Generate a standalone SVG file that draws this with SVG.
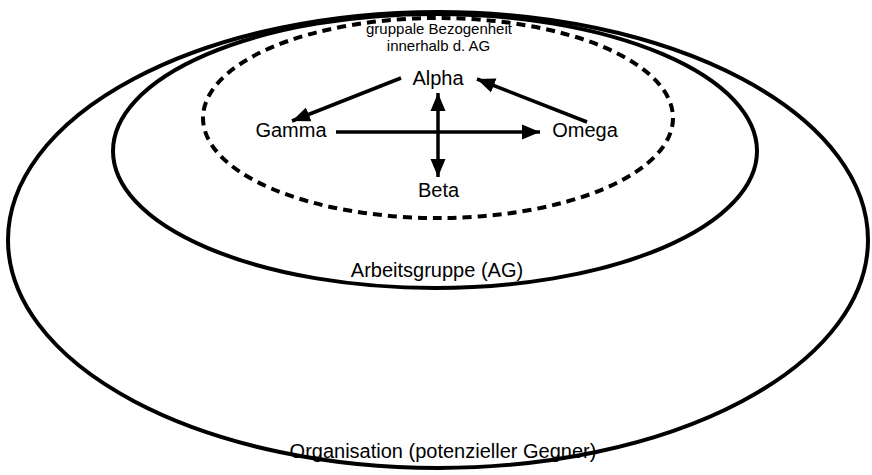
<svg xmlns="http://www.w3.org/2000/svg" width="872" height="475" viewBox="0 0 872 475">
<style>
.ring{fill:none;stroke:#000;stroke-width:4}
.dash{fill:none;stroke:#000;stroke-width:4;stroke-dasharray:9 6}
.lbl{font-family:"Liberation Sans",Arial,sans-serif;font-size:20px;fill:#000;text-anchor:middle}
.sm{font-family:"Liberation Sans",Arial,sans-serif;font-size:15px;fill:#000;text-anchor:middle}
.arr{stroke:#000;stroke-width:3.5;fill:none}
</style>
<defs>
<marker id="ah" markerUnits="userSpaceOnUse" markerWidth="20" markerHeight="16" refX="18" refY="8" orient="auto-start-reverse" viewBox="0 0 20 16">
<path d="M0,0.5 L18,8 L0,15.5 z" fill="#000"/>
</marker>
</defs>
<rect width="872" height="475" fill="#fff"/>
<g id="organisation">
<ellipse class="ring" cx="438" cy="240" rx="430" ry="228"/>
<text class="lbl" x="443" y="458">Organisation (potenzieller Gegner)</text>
</g>
<g id="arbeitsgruppe">
<ellipse class="ring" cx="435" cy="151" rx="322" ry="137"/>
<text class="lbl" x="437" y="277">Arbeitsgruppe (AG)</text>
</g>
<g id="bezogenheit">
<ellipse class="dash" cx="438" cy="118" rx="235" ry="100"/>
<text class="sm" x="439" y="34">gruppale Bezogenheit</text>
<text class="sm" x="438.5" y="51">innerhalb d. AG</text>
</g>
<g id="alpha"><text class="lbl" x="438" y="85">Alpha</text></g>
<g id="gamma"><text class="lbl" x="291" y="137">Gamma</text></g>
<g id="omega"><text class="lbl" x="585" y="137">Omega</text></g>
<g id="beta"><text class="lbl" x="438.5" y="197">Beta</text></g>
<g id="connectors">
<line class="arr" x1="401" y1="78" x2="292" y2="121" marker-end="url(#ah)"/>
<line class="arr" x1="587" y1="122" x2="477" y2="79" marker-end="url(#ah)"/>
<line class="arr" x1="336" y1="132" x2="540" y2="132" marker-end="url(#ah)"/>
<line class="arr" x1="438" y1="93" x2="438" y2="177" marker-start="url(#ah)" marker-end="url(#ah)"/>
</g>
</svg>
